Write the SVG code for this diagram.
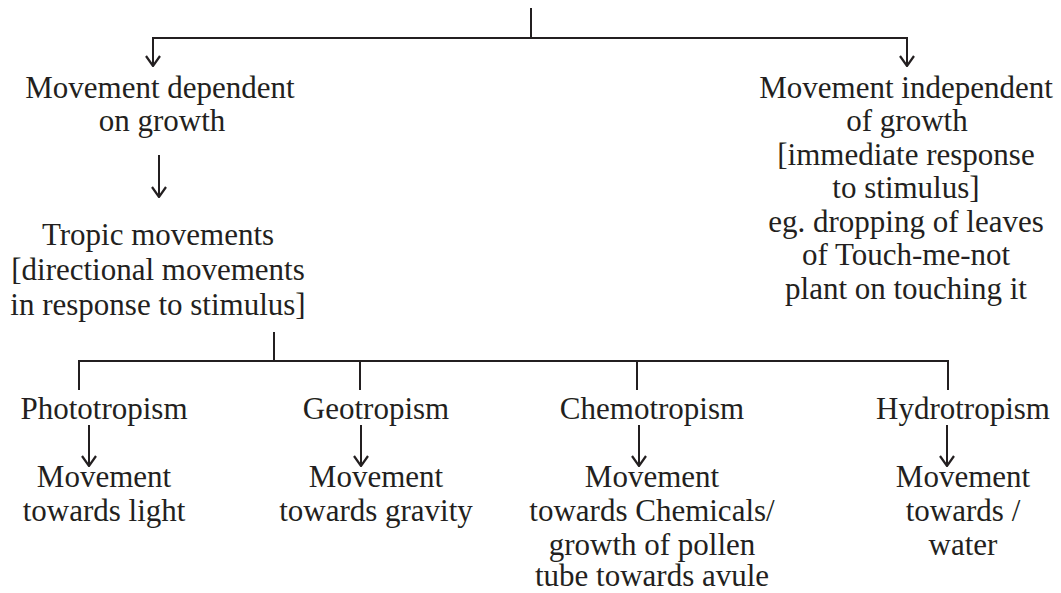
<svg xmlns="http://www.w3.org/2000/svg" width="1061" height="593" viewBox="0 0 1061 593">
<style>
text{font-family:'Liberation Serif','Times New Roman','DejaVu Serif',serif;font-size:31px;fill:#231f20;text-anchor:middle}
.ln{stroke:#231f20;stroke-width:2;fill:none}
</style>
<defs>
<marker id="ah" markerWidth="12" markerHeight="16" viewBox="0 0 12 16" refX="11" refY="8" orient="auto-start-reverse" markerUnits="userSpaceOnUse">
<path d="M1,1 L11,8 L1,15" fill="none" stroke="#231f20" stroke-width="2.2"/>
</marker>
</defs>
<rect width="1061" height="593" fill="#fff"/>
<g id="connectors" class="ln">
<line x1="531" y1="8" x2="531" y2="38"/>
<polyline points="153,66 153,38 907,38 907,66" marker-start="url(#ah)" marker-end="url(#ah)"/>
<line x1="159" y1="155" x2="159" y2="197" marker-end="url(#ah)"/>
<line x1="274" y1="332" x2="274" y2="361"/>
<polyline points="79,390 79,361 948,361 948,390"/>
<line x1="360" y1="361" x2="360" y2="390"/>
<line x1="637" y1="361" x2="637" y2="390"/>
<line x1="89" y1="425" x2="89" y2="466" marker-end="url(#ah)"/>
<line x1="361" y1="425" x2="361" y2="466" marker-end="url(#ah)"/>
<line x1="639" y1="425" x2="639" y2="466" marker-end="url(#ah)"/>
<line x1="947" y1="425" x2="947" y2="466" marker-end="url(#ah)"/>
</g>
<g id="dependent">
<text x="160" y="98">Movement dependent</text>
<text x="162" y="131">on growth</text>
</g>
<g id="independent">
<text x="906" y="98">Movement independent</text>
<text x="907" y="131">of growth</text>
<text x="906" y="165">[immediate response</text>
<text x="906" y="198">to stimulus]</text>
<text x="906" y="232">eg. dropping of leaves</text>
<text x="906" y="265">of Touch-me-not</text>
<text x="906" y="299">plant on touching it</text>
</g>
<g id="tropic">
<text x="158" y="245">Tropic movements</text>
<text x="158" y="280">[directional movements</text>
<text x="158" y="315">in response to stimulus]</text>
</g>
<g id="phototropism">
<text x="104" y="419">Phototropism</text>
</g>
<g id="photo-result">
<text x="104" y="487">Movement</text>
<text x="104" y="521">towards light</text>
</g>
<g id="geotropism">
<text x="376" y="419">Geotropism</text>
</g>
<g id="geo-result">
<text x="376" y="487">Movement</text>
<text x="376" y="521">towards gravity</text>
</g>
<g id="chemotropism">
<text x="652" y="419">Chemotropism</text>
</g>
<g id="chemo-result">
<text x="652" y="487">Movement</text>
<text x="652" y="521">towards Chemicals/</text>
<text x="652" y="555">growth of pollen</text>
<text x="652" y="586">tube towards avule</text>
</g>
<g id="hydrotropism">
<text x="963" y="419">Hydrotropism</text>
</g>
<g id="hydro-result">
<text x="963" y="487">Movement</text>
<text x="963" y="521">towards /</text>
<text x="963" y="555">water</text>
</g>
</svg>
